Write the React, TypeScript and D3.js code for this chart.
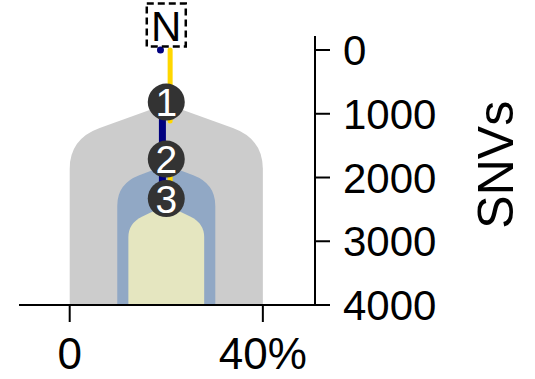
import React from "react";
import * as d3 from "d3";

// ---- data ----
const xTickValues = [0, 40];
const xTickLabels = ["0", "40%"];
const yTickValues = [0, 1000, 2000, 3000, 4000];
const yAxisTitle = "SNVs";
const rootLabel = "N";
const rootSNVs = 0;

const treeCenter = 20; // % position of the tree trunk
const nodeLabels = ["1", "2", "3"];
const nodeSNVs = [816, 1711, 2330];

// clone shapes (outer to inner): emergence (SNVs) and cellular fraction (%)
const cloneStartSNVs = [848, 1805, 2430];
const cloneFractions = [40, 20.3, 15.7];
const cloneColors = ["#cccccc", "#91a8c5", "#e5e6c0"];

// branch segments [from SNVs, to SNVs]
const navySegments = [[816, 2330]];
const yellowSegments = [
  [0, 1115],
  [1711, 2200],
];

// ---- styles ----
const W = 535;
const H = 379;
const shapeSlopes = [0.36, 0.38, 0.48];
const shapeCorners = [30, 22, 14];
const font = "'Liberation Sans', Arial, Helvetica, sans-serif";

export default function App() {
  const x = d3.scaleLinear().domain([-10.5, 50.8]).range([19, 315]);
  const y = d3.scaleLinear().domain([-220, 4000]).range([36, 305]);
  const baseY = y(4000);
  const axisX = x(50.8);
  const cx = x(treeCenter);

  const shapePath = (i: number) => {
    const half = cloneFractions[i] / 2;
    const xL = x(treeCenter - half);
    const xR = x(treeCenter + half);
    const y0 = y(cloneStartSNVs[i]);
    const s = shapeSlopes[i];
    const r = shapeCorners[i];
    const p = d3.path();
    p.moveTo(cx, y0);
    p.lineTo(xL + r, y0 + s * (cx - xL - r));
    p.quadraticCurveTo(xL, y0 + s * (cx - xL), xL, y0 + s * (cx - xL) + r);
    p.lineTo(xL, baseY);
    p.lineTo(xR, baseY);
    p.lineTo(xR, y0 + s * (xR - cx) + r);
    p.quadraticCurveTo(xR, y0 + s * (xR - cx), xR - r, y0 + s * (xR - r - cx));
    p.closePath();
    return p.toString();
  };

  const navyX = x(19.2);
  const yellowX = x(20.8);

  return (
    <svg
      width={W}
      height={H}
      style={{ position: "absolute", left: 0, top: 0, background: "#fff" }}
      fontFamily={font}
    >
      {cloneFractions.map((_, i) => (
        <path key={i} d={shapePath(i)} fill={cloneColors[i]} />
      ))}
      {yellowSegments.map((s, i) => (
        <line
          key={"y" + i}
          x1={yellowX}
          x2={yellowX}
          y1={y(s[0])}
          y2={y(s[1])}
          stroke="#ffd700"
          strokeWidth={5}
          strokeLinecap="round"
        />
      ))}
      {navySegments.map((s, i) => (
        <line
          key={"n" + i}
          x1={navyX}
          x2={navyX}
          y1={y(s[0])}
          y2={y(s[1])}
          stroke="#00007f"
          strokeWidth={7}
          strokeLinecap="round"
        />
      ))}
      <circle cx={x(18.8)} cy={y(rootSNVs)} r={3.5} fill="#00007f" />
      {nodeSNVs.map((v, i) => (
        <g key={"c" + i} transform={`translate(${cx},${y(v)})`}>
          <circle r={18.5} fill="#333333" />
          <text textAnchor="middle" dy="0.36em" fontSize={39} fill="#ffffff">
            {nodeLabels[i]}
          </text>
        </g>
      ))}
      {/* root */}
      <rect
        x={cx - 19.5}
        y={3.5}
        width={39}
        height={43}
        fill="none"
        stroke="#000"
        strokeWidth={2.5}
        strokeDasharray="7,4"
      />
      <text x={cx} y={25.5} dy="0.36em" textAnchor="middle" fontSize={42} fill="#000">
        {rootLabel}
      </text>

      {/* x axis */}
      <line x1={x(-10.5)} x2={axisX} y1={baseY} y2={baseY} stroke="#000" strokeWidth={2} />
      {xTickValues.map((v, i) => (
        <g key={"xt" + i} transform={`translate(${x(v)},${baseY})`}>
          <line y1={0} y2={17} stroke="#000" strokeWidth={2} />
          <text y={64} textAnchor="middle" fontSize={44} fill="#000">
            {xTickLabels[i]}
          </text>
        </g>
      ))}

      {/* y axis */}
      <line x1={axisX} x2={axisX} y1={y(-220)} y2={baseY} stroke="#000" strokeWidth={2} />
      {yTickValues.map((v) => (
        <g key={"yt" + v} transform={`translate(${axisX},${y(v)})`}>
          <line x1={0} x2={15} stroke="#000" strokeWidth={2} />
          <text x={28} dy="0.36em" fontSize={42} fill="#000">
            {String(v)}
          </text>
        </g>
      ))}
      <text
        transform={`translate(${495},${y(1800)}) rotate(-90)`}
        textAnchor="middle"
        dy="0.36em"
        fontSize={50}
        fill="#000"
      >
        {yAxisTitle}
      </text>
    </svg>
  );
}
